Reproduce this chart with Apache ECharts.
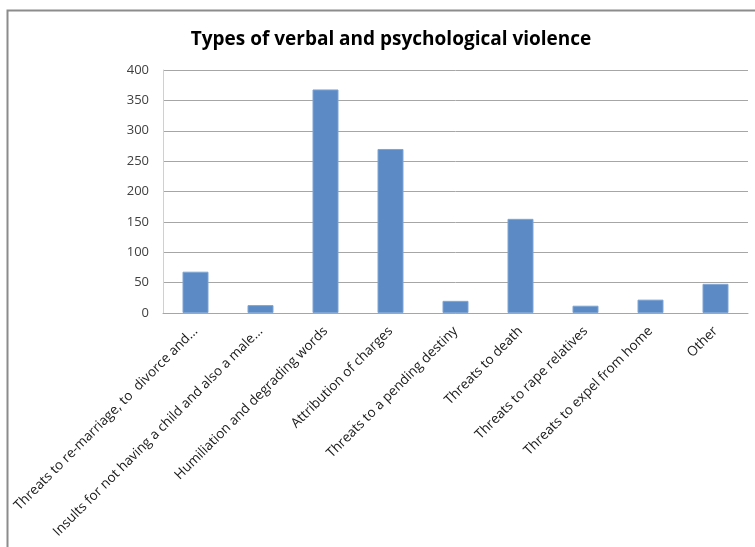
<!DOCTYPE html>
<html>
<head>
<meta charset="utf-8">
<script src="https://cdn.jsdelivr.net/npm/echarts@6/dist/echarts.min.js"></script>
<style>
html, body { margin: 0; padding: 0; background: #fff; }
#chart { width: 755px; height: 547px; }
</style>
</head>
<body>
<div id="chart"></div>
<script>
// data
var categories = [
	'Threats to re-marriage, to  divorce and...',
	'Insults for not having a child and also a male...',
	'Humiliation and degrading words',
	'Attribution of charges',
	'Threats to a pending destiny',
	'Threats to death',
	'Threats to rape relatives',
	'Threats to expel from home',
	'Other'
];
var counts = [68, 13, 368, 270, 20, 155, 12, 22, 48];
var yTicks = [0, 50, 100, 150, 200, 250, 300, 350, 400];

var chart = echarts.init(document.getElementById('chart'));
chart.setOption({
	animation: false,
	textStyle: { fontFamily: 'Open Sans' },
	title: {
		text: 'Types of verbal and psychological violence',
		left: 386,
		top: 25,
		textAlign: 'center',
		textStyle: { fontSize: 19, fontWeight: 'bold', color: '#000', fontFamily: 'Open Sans' }
	},
	// chart frame
	graphic: [{
		type: 'rect',
		shape: { x: 7.5, y: 10.5, width: 800, height: 600 },
		style: { fill: null, stroke: '#8c8c8c', lineWidth: 2 },
		silent: true
	}],
	grid: { left: 163, right: 7, top: 70, bottom: 234 },
	xAxis: {
		type: 'category',
		data: categories,
		axisTick: { show: false },
		axisLine: { lineStyle: { color: '#a6a6a6' } },
		axisLabel: {
			interval: 0,
			rotate: 45,
			margin: 16,
			fontSize: 13.5,
			color: '#1a1a1a'
		}
	},
	yAxis: {
		type: 'value',
		min: yTicks[0],
		max: yTicks[yTicks.length - 1],
		interval: 50,
		axisLine: { show: true, lineStyle: { color: '#d0d0d0' } },
		axisTick: { show: false },
		axisLabel: { fontSize: 13, color: '#404040', margin: 14 },
		splitLine: { lineStyle: { color: '#a6a6a6' } }
	},
	series: [{
		type: 'bar',
		data: counts,
		barWidth: '40%',
		itemStyle: { color: '#5b8ac4', borderColor: '#7fa5d4', borderWidth: 1 }
	}]
});
</script>
</body>
</html>
